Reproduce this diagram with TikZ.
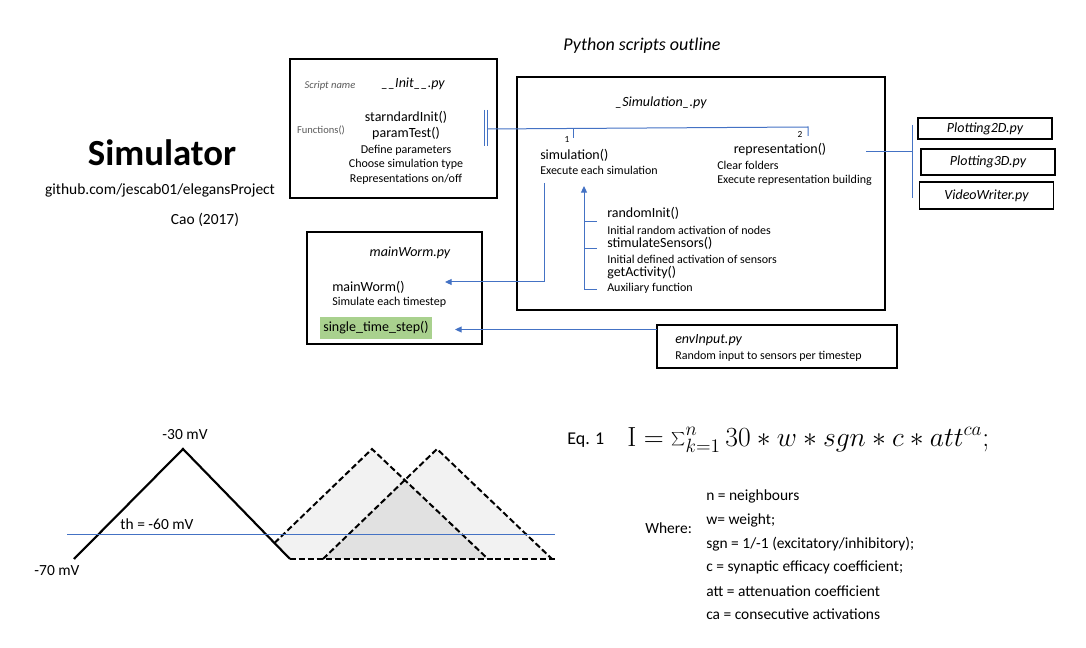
\documentclass[tikz,border=0pt]{standalone}
\usepackage[no-math]{fontspec}
\setmainfont{Carlito}
\usetikzlibrary{arrows.meta,fit}

\definecolor{linkblue}{HTML}{4472C4}
\definecolor{stepgreen}{HTML}{A9D18E}
\definecolor{notegray}{HTML}{595959}
\definecolor{shadelight}{HTML}{F2F2F2}
\definecolor{shadedark}{HTML}{E1E1E1}

\tikzset{
  filebox/.style={draw=black, line width=0.9pt, inner sep=0pt},
  plotbox/.style={filebox, ftitle, minimum width=100.5pt},
  link/.style={draw=linkblue, line width=0.75pt},
  linkarrow/.style={link, -{Triangle[length=5pt,width=4.5pt]}},
  ftitle/.style={font=\fontsize{10.5}{12}\selectfont\itshape, inner sep=0pt},
  fname/.style={font=\fontsize{10.5}{12}\selectfont, inner sep=0pt},
  fdesc/.style={font=\fontsize{9}{11}\selectfont, inner sep=0pt},
  note/.style={font=\fontsize{7.9}{9}\selectfont, text=notegray, inner sep=0pt},
  plain/.style={font=\fontsize{11.6}{14}\selectfont, inner sep=0pt},
  wave/.style={line width=1.6pt, line join=miter},
  dashwave/.style={line width=1.5pt, dash pattern=on 4.5pt off 2.2pt}
}

\begin{document}
\begin{tikzpicture}[x=0.75pt, y=-0.75pt]
\useasboundingbox (0,0) rectangle (1086,648);

% Left title block
\node (simtitle) [font=\fontsize{27.6}{30}\selectfont\bfseries, inner sep=0pt] at (162,153) {Simulator};
\node (repo) [plain] at (160,190) {github.com/jescab01/elegansProject};
\node (cite) [plain] at (205,220) {Cao (2017)};

% Outline title
\node (outline) [font=\fontsize{13.5}{16}\selectfont\itshape, inner sep=0pt] at (642,46) {Python scripts outline};

% Script __Init__.py
\node (init) [filebox, fit={(290,59) (497,198)}] {};
\node (initlabel) [note, font=\fontsize{7.9}{9}\selectfont\itshape] at (330,86) {Script name};
\node (initname) [ftitle] at (413,84) {\_\_Init\_\_.py};
\node (funclabel) [note] at (321,130) {Functions()};
\node (stdinit) [fname] at (406,117) {starndardInit()};
\node (ptest) [fname] at (406,134) {paramTest()};
\node (ptestA) [fdesc] at (406,150) {Define parameters};
\node (ptestB) [fdesc] at (406,164) {Choose simulation type};
\node (ptestC) [fdesc] at (406,179) {Representations on/off};

% Script _Simulation_.py
\node (sim) [filebox, fit={(517,77) (885,310)}] {};
\node (simname) [ftitle] at (661,103) {\_Simulation\_.py};
\node (simfunc) [fname, anchor=west] at (540,155) {simulation()};
\node (simdesc) [fdesc, anchor=west] at (540,170) {Execute each simulation};
\node (repfunc) [fname] at (780,150) {representation()};
\node (repdescA) [fdesc, anchor=west] at (717,165) {Clear folders};
\node (repdescB) [fdesc, anchor=west] at (717,180) {Execute representation building};
\node (one) [font=\fontsize{7}{8}\selectfont, inner sep=0pt] at (567,140) {1};
\node (two) [font=\fontsize{7}{8}\selectfont, inner sep=0pt] at (800,134) {2};

\node (rinit) [fname, anchor=west] at (607,213) {randomInit()};
\node (rinitdesc) [fdesc, anchor=west] at (607,230) {Initial random activation of nodes};
\node (stim) [fname, anchor=west] at (607,243) {stimulateSensors()};
\node (stimdesc) [fdesc, anchor=west] at (607,259) {Initial defined activation of sensors};
\node (gact) [fname, anchor=west] at (607,273) {getActivity()};
\node (gactdesc) [fdesc, anchor=west] at (607,288) {Auxiliary function};

% Plotting scripts
\node (plotA) [plotbox, minimum height=15.75pt] at (985,128.5) {Plotting2D.py};
\node (plotB) [plotbox, minimum height=19.5pt] at (988,162) {Plotting3D.py};
\node (plotC) [plotbox, minimum height=20.25pt] at (986.5,195.5) {VideoWriter.py};

% Script mainWorm.py
\node (worm) [filebox, fit={(307,232) (482,344)}] {};
\node (wormname) [ftitle] at (410,253) {mainWorm.py};
\node (wormfunc) [fname, anchor=west] at (332,287) {mainWorm()};
\node (wormdesc) [fdesc, anchor=west] at (332,302) {Simulate each timestep};
\node (onestep) [fname, fill=stepgreen, minimum width=84pt, minimum height=16.5pt] at (376,328) {single\_time\_step()};

% Script envInput.py
\node (env) [filebox, fit={(657,325) (897,368)}] {};
\node (envname) [ftitle, anchor=west] at (675,340) {envInput.py};
\node (envdesc) [fdesc, anchor=west] at (675,356) {Random input to sensors per timestep};

% Drawing link init -> simulation / representation
\coordinate (hub) at (487,129);
\coordinate (tickA) at (573,128.5);
\coordinate (tickB) at (808,127);
\draw [link] (484,110) -- (484,146);
\draw [link] (487,110) -- (487,146);
\draw [link] (hub) -- (tickB) -- ++(0,9);
\draw [link] (tickA) -- ++(0,10);

% Drawing link representation -> plotting
\coordinate (repout) at (866,152);
\coordinate (plotbar) at (912,152);
\draw [link] (repout) -- (plotbar);
\draw [link] (912,125) -- (912,198);

% Drawing link simulation -> mainWorm
\coordinate (simdown) at (544,183);
\coordinate (wormin) at (445,282);
\draw [linkarrow] (simdown) |- (wormin);

% Drawing helper functions -> simulation
\coordinate (helpbase) at (584,290);
\coordinate (helptop) at (584,186);
\draw [linkarrow] (597,290) -- (helpbase) -- (helptop);
\draw [link] (584,222) -- (597,222);
\draw [link] (584,249) -- (597,249);

% Drawing link envInput -> single_time_step
\coordinate (envout) at (657,329.5);
\coordinate (stepin) at (455,329.5);
\draw [linkarrow] (envout) -- (stepin);

% Action potential sketch
\coordinate (footL) at (74,559);
\coordinate (peak) at (183,449);
\coordinate (footR) at (290,559);
\coordinate (aStart) at (274.5,543);
\coordinate (aPeak) at (372,449);
\coordinate (aFoot) at (488,559);
\coordinate (bFoot) at (323,559);
\coordinate (bPeak) at (437,449);
\coordinate (bEnd) at (552,559);
\coordinate (cross) at (intersection of bFoot--bPeak and aPeak--aFoot);

\fill [shadelight] (aStart) -- (aPeak) -- (aFoot) -- (footR) -- cycle;
\fill [shadelight] (bFoot) -- (bPeak) -- (bEnd) -- cycle;
\fill [shadedark] (bFoot) -- (cross) -- (aFoot) -- cycle;
\draw [dashwave] (aStart) -- (aPeak) -- (aFoot);
\draw [dashwave] (bFoot) -- (bPeak) -- (bEnd);
\draw [dashwave] (footR) -- (555,559);
\draw [wave] (footL) -- (peak) -- (footR);
\draw [link] (67,535) -- (555,535);

\node (vtop) [plain] at (185,435) {-30 mV};
\node (vth) [plain] at (157,524) {th = -60 mV};
\node (vrest) [plain] at (57,571) {-70 mV};

% Equation
\node (eqlabel) [font=\fontsize{13.5}{15}\selectfont, inner sep=0pt, anchor=west] at (567,440) {Eq. 1};
\node (eq) [font=\fontsize{21}{25}\selectfont, inner sep=0pt, anchor=west] at (627,440)
  {$\mathrm{I}=\sum_{k=1}^{n} 30 * w * sgn * c * att^{ca};$};

\node (where) [plain, anchor=west] at (645,528) {Where:};
\node (defN) [plain, anchor=west] at (706,496) {n = neighbours};
\node (defW) [plain, anchor=west] at (706,520) {w= weight;};
\node (defS) [plain, anchor=west] at (706,544) {sgn = 1/-1 (excitatory/inhibitory);};
\node (defC) [plain, anchor=west] at (706,567) {c = synaptic efficacy coefficient;};
\node (defA) [plain, anchor=west] at (706,591) {att = attenuation coefficient};
\node (defCA) [plain, anchor=west] at (706,614) {ca = consecutive activations};
\end{tikzpicture}
\end{document}
